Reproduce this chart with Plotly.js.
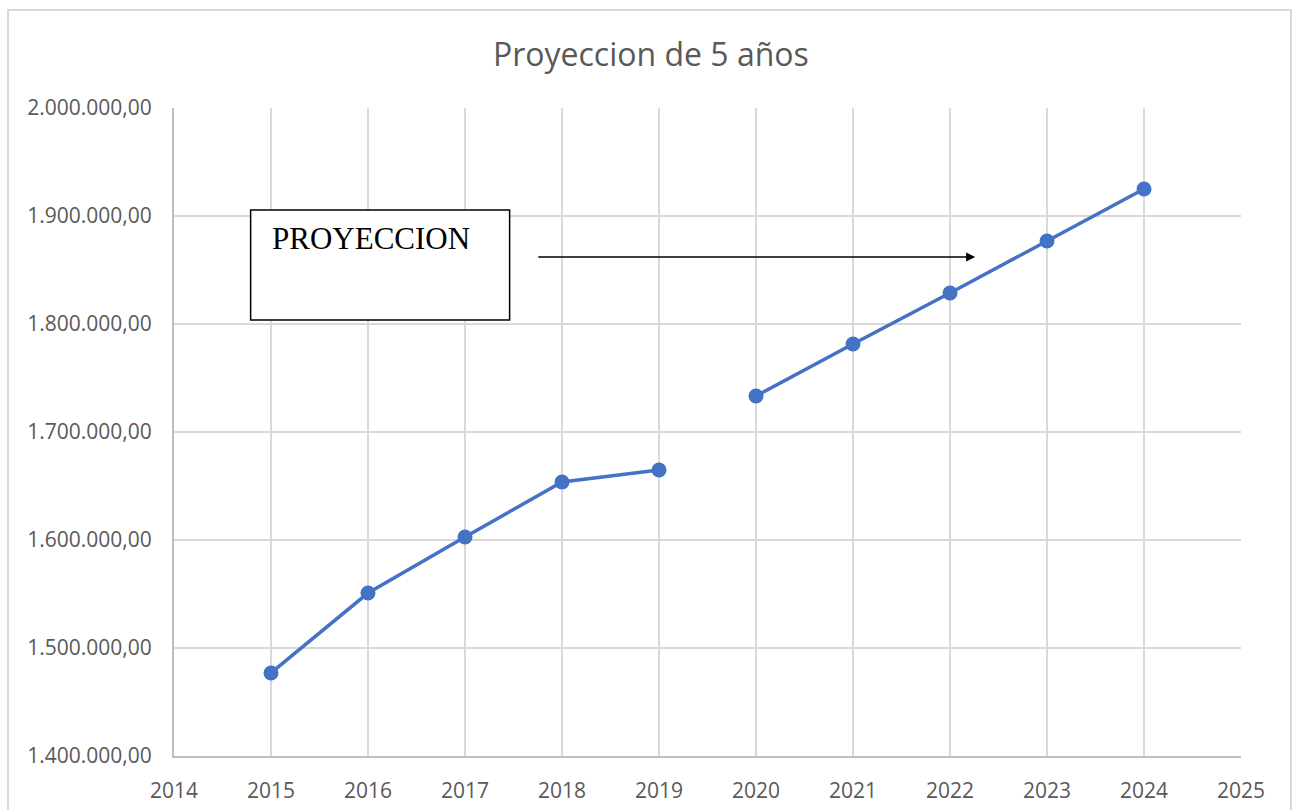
<!DOCTYPE html>
<html>
<head>
<meta charset="utf-8">
<script src="https://cdn.plot.ly/plotly-3.0.1.min.js"></script>
<style>
  html, body { margin: 0; padding: 0; background: #fff; }
  #chart { width: 1294px; height: 810px; }
  #frame { position: absolute; left: 7px; top: 9px; width: 1285px; height: 805px; border: 2px solid #d9d9d9; pointer-events: none; box-sizing: border-box; }
</style>
</head>
<body>
<div id="chart"></div>
<div id="frame"></div>
<script>
const histYears = [2015, 2016, 2017, 2018, 2019];
const histValues = [1476900, 1550900, 1602800, 1653700, 1664800];
const projYears = [2020, 2021, 2022, 2023, 2024];
const projValues = [1733300, 1781500, 1828700, 1876900, 1925000];
const xTicks = [2014, 2015, 2016, 2017, 2018, 2019, 2020, 2021, 2022, 2023, 2024, 2025];
const chartTitle = 'Proyeccion de 5 años';
const boxLabel = 'PROYECCION';

const lineStyle = { color: '#4472C4', width: 3.5 };
const markerStyle = { color: '#4472C4', size: 15 };

const traces = [
  { x: histYears, y: histValues, type: 'scatter', mode: 'lines+markers', line: lineStyle, marker: markerStyle, showlegend: false },
  { x: projYears, y: projValues, type: 'scatter', mode: 'lines+markers', line: lineStyle, marker: markerStyle, showlegend: false }
];

const layout = {
  width: 1294, height: 810,
  margin: { l: 174, r: 53, t: 108, b: 54 },
  paper_bgcolor: '#fff', plot_bgcolor: '#fff',
  separators: ',.',
  font: { family: 'Open Sans, sans-serif', color: '#595959', size: 21 },
  title: { text: chartTitle, x: 0.503, xanchor: 'center', y: 0.932, yanchor: 'middle', font: { size: 32, color: '#595959', family: 'Open Sans, sans-serif' } },
  xaxis: {
    range: [2014, 2025], tickvals: xTicks, ticktext: xTicks.map(String),
    showgrid: true, gridcolor: '#d9d9d9', gridwidth: 2,
    showline: true, linecolor: '#bfbfbf', linewidth: 2,
    zeroline: false, ticks: '', ticklabelstandoff: 15,
    tickfont: { size: 21, color: '#595959' }
  },
  yaxis: {
    range: [1400000, 2000000], dtick: 100000, tickformat: ',.2f',
    showgrid: true, gridcolor: '#d9d9d9', gridwidth: 2,
    showline: true, linecolor: '#bfbfbf', linewidth: 2,
    zeroline: false, ticks: '', ticklabelstandoff: 16,
    tickfont: { size: 21, color: '#595959' }
  },
  shapes: [
    { type: 'rect', xref: 'x', yref: 'y', x0: 2014.79, x1: 2017.46, y0: 1803704, y1: 1905556,
      line: { color: '#000', width: 1.5 }, fillcolor: '#fff', layer: 'above' }
  ],
  annotations: [
    { x: 2014.99, y: 1897000, xref: 'x', yref: 'y', text: boxLabel, showarrow: false,
      xanchor: 'left', yanchor: 'top', font: { family: 'Liberation Serif, serif', size: 31, color: '#000' } },
    { x: 2022.26, y: 1862037, ax: 2017.74, ay: 1862037, xref: 'x', yref: 'y', axref: 'x', ayref: 'y',
      text: '', showarrow: true, arrowhead: 2, arrowsize: 1.4, arrowwidth: 1.3, arrowcolor: '#000' }
  ]
};

Plotly.newPlot('chart', traces, layout, { displayModeBar: false, staticPlot: true });
</script>
</body>
</html>
